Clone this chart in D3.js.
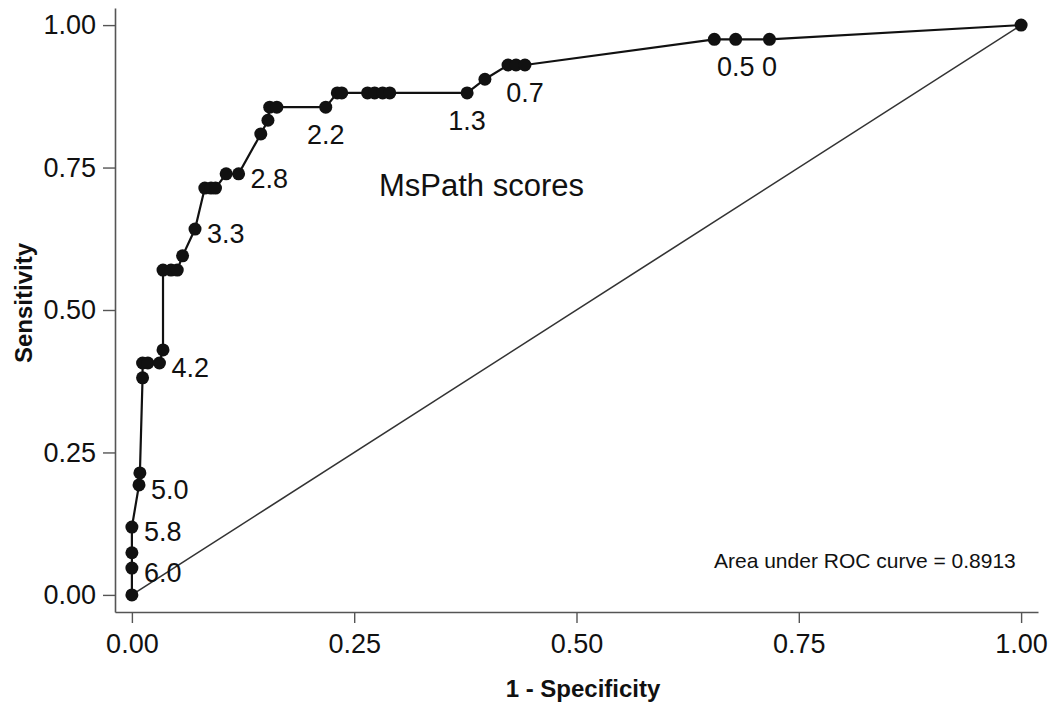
<!DOCTYPE html>
<html>
<head>
<meta charset="utf-8">
<script src="https://cdn.jsdelivr.net/npm/d3@7"></script>
<style>
  html, body { margin: 0; padding: 0; background: #fff; }
  svg { display: block; }
  text { font-family: "Liberation Sans", Arial, Helvetica, sans-serif; fill: #111; }
</style>
</head>
<body>
<svg id="chart" width="1050" height="713"></svg>
<script>
// ---- data ----
const fpr = [0, 0, 0, 0, 0.008, 0.009, 0.012, 0.012, 0.018, 0.031, 0.035,
             0.035, 0.044, 0.051, 0.057, 0.071, 0.082, 0.089, 0.094, 0.106, 0.120,
             0.145, 0.153, 0.155, 0.163, 0.218, 0.231, 0.236, 0.265, 0.273, 0.282,
             0.290, 0.377, 0.397, 0.423, 0.432, 0.442, 0.655, 0.679, 0.717, 1];
const tpr = [0, 0.047, 0.074, 0.119, 0.193, 0.214, 0.381, 0.407, 0.407, 0.407, 0.430,
             0.570, 0.570, 0.570, 0.595, 0.642, 0.714, 0.714, 0.714, 0.739, 0.739,
             0.809, 0.833, 0.856, 0.856, 0.856, 0.881, 0.881, 0.881, 0.881, 0.881,
             0.881, 0.881, 0.905, 0.930, 0.930, 0.930, 0.975, 0.975, 0.975, 1];
const labelText  = ["6.0", "5.8", "5.0", "4.2", "3.3", "2.8", "2.2", "1.3", "0.7", "0.5", "0"];
const labelIndex = [1, 3, 4, 9, 15, 20, 25, 32, 36, 38, 39];
const labelPos   = ["right", "right", "right", "right", "right", "right", "below", "below", "below", "below", "below"];
const tickValues = [0, 0.25, 0.5, 0.75, 1];
const xTitle = "1 - Specificity";
const yTitle = "Sensitivity";
const curveName = "MsPath scores";
const aucText = "Area under ROC curve = 0.8913";

// ---- layout ----
const svg = d3.select("#chart");
const x = d3.scaleLinear().domain([-0.019, 1.019]).range([115, 1038]);
const y = d3.scaleLinear().domain([-0.03, 1.03]).range([612, 8]);

// axes
const xAxis = svg.append("g").attr("transform", "translate(0,612)")
  .call(d3.axisBottom(x).tickValues(tickValues).tickFormat(d3.format(".2f"))
        .tickSizeInner(11).tickSizeOuter(0).tickPadding(11));
const yAxis = svg.append("g").attr("transform", "translate(115,0)")
  .call(d3.axisLeft(y).tickValues(tickValues).tickFormat(d3.format(".2f"))
        .tickSizeInner(12).tickSizeOuter(0).tickPadding(7));
[xAxis, yAxis].forEach(g => {
  g.select(".domain").attr("stroke", "#555").attr("stroke-width", 1.6);
  g.selectAll(".tick line").attr("stroke", "#555").attr("stroke-width", 1.4);
  g.selectAll(".tick text").attr("font-size", 27)
    .attr("font-family", "'Liberation Sans', Arial, sans-serif").attr("fill", "#111");
});

// axis titles
svg.append("text").attr("x", 583).attr("y", 697).attr("text-anchor", "middle")
  .attr("font-size", 24).attr("font-weight", "bold").text(xTitle);
svg.append("text").attr("transform", "translate(32,303) rotate(-90)")
  .attr("text-anchor", "middle").attr("font-size", 24).attr("font-weight", "bold").text(yTitle);

// reference diagonal
svg.append("line")
  .attr("x1", x(0)).attr("y1", y(0)).attr("x2", x(1)).attr("y2", y(1))
  .attr("stroke", "#333").attr("stroke-width", 1.6);

// ROC curve
const pts = fpr.map((f, i) => ({ f, t: tpr[i] }));
svg.append("path").datum(pts)
  .attr("fill", "none").attr("stroke", "#111").attr("stroke-width", 2.2)
  .attr("d", d3.line().x(d => x(d.f)).y(d => y(d.t)));

svg.append("g").selectAll("circle").data(pts).join("circle")
  .attr("cx", d => x(d.f)).attr("cy", d => y(d.t)).attr("r", 6.5)
  .attr("fill", "#111");

// point labels
svg.append("g").selectAll("text").data(labelText).join("text")
  .attr("font-size", 27)
  .attr("x", (d, i) => {
    const p = pts[labelIndex[i]];
    return labelPos[i] === "right" ? x(p.f) + 12 : x(p.f);
  })
  .attr("y", (d, i) => {
    const p = pts[labelIndex[i]];
    return labelPos[i] === "right" ? y(p.t) + 14 : y(p.t) + 37;
  })
  .attr("text-anchor", (d, i) => labelPos[i] === "right" ? "start" : "middle")
  .text(d => d);

// annotations
svg.append("text").attr("x", 379).attr("y", 196).attr("font-size", 31).text(curveName);
svg.append("text").attr("x", 714).attr("y", 568).attr("font-size", 21).text(aucText);
</script>
</body>
</html>
